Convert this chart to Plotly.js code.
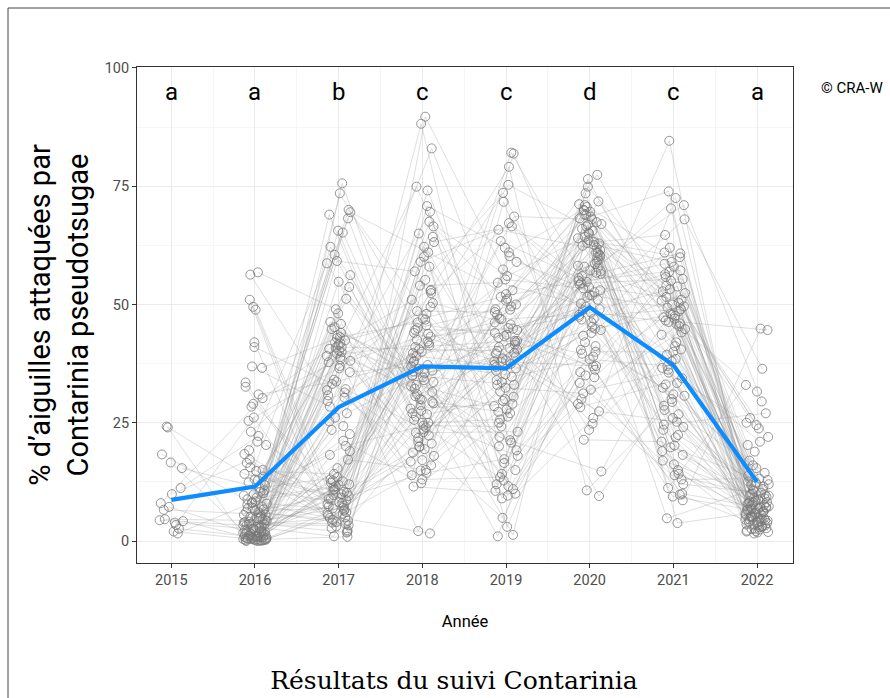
<!DOCTYPE html>
<html>
<head>
<meta charset="utf-8">
<script src="https://cdn.plot.ly/plotly-3.0.1.min.js"></script>
<style>html,body{margin:0;padding:0;background:#fff;}#chart{width:890px;height:698px;}</style>
</head>
<body>
<div id="chart"></div>
<script>
// ---- data ----
const years = [2015, 2016, 2017, 2018, 2019, 2020, 2021, 2022];
const tickLabels = ['2015', '2016', '2017', '2018', '2019', '2020', '2021', '2022'];
const letters = ['a', 'a', 'b', 'c', 'c', 'd', 'c', 'a'];
const means = [8.7, 11.5, 28.3, 36.9, 36.5, 49.4, 37.2, 12.5];

// one value per monitored plot, index i = same plot in every year
const v2015 = [4.4, 24.2, 2.0, 11.2, 6.6, 16.6, 1.6, 8.0, 24.0, 3.9, 15.4, 4.6, 9.9, 2.6, 18.3, 7.2, 3.4, 4.2];
const v2016 = [3.1, 14.2, 0.4, 22.2, 5.6, 1.1, 8.4, 30.2, 0.2, 2.5, 11.2, 4.3, 17.2, 0.8, 6.7, 1.9, 26.1, 0.1,
  9.6, 3.7, 56.8, 2.0, 0.5, 13.0, 7.3, 1.4, 36.9, 4.8, 0.3, 19.2, 2.9, 10.1, 0.6, 49.5, 5.0, 1.7,
  15.6, 0.0, 3.5, 8.8, 41.0, 2.2, 0.9, 28.4, 6.1, 1.3, 12.4, 0.2, 4.6, 33.5, 7.0, 2.7, 0.7, 51.0,
  9.2, 1.6, 16.5, 0.3, 5.3, 3.9, 23.1, 1.0, 11.8, 0.5, 6.4, 36.6, 2.4, 8.0, 0.1, 20.3, 4.1, 1.1,
  13.6, 0.0, 29.0, 5.8, 3.3, 56.3, 0.4, 10.7, 7.7, 42.0, 2.0, 18.4, 0.9, 31.0, 4.4, 25.4, 48.9, 15.0, 32.6,
  0.6, 2.8, 7.9, 1.2, 4.9, 0.2, 3.4, 9.9, 0.8, 5.5, 1.5, 12.8, 0.3, 6.9, 2.3, 0.1, 4.0, 8.2, 1.8, 0.5,
  3.6, 14.8, 0.9, 6.2, 2.6, 10.4, 0.4, 5.1, 21.0];
const v2017 = [40.2, 8.6, 69.0, 3.1, 24.3, 56.2, 11.3, 38.4, 0.9, 62.2, 13.5, 31.4, 5.9, 45.2, 9.9, 70.0, 2.7, 41.5,
  20.1, 7.3, 49.0, 12.6, 35.7, 4.5, 73.5, 10.2, 28.4, 39.6, 6.4, 58.7, 1.0, 44.0, 17.2, 9.0, 65.6, 42.4,
  5.4, 26.1, 75.6, 12.0, 33.2, 8.2, 51.2, 40.6, 4.0, 21.2, 69.5, 10.8, 38.9, 2.3, 46.3, 15.4, 30.3, 7.8,
  60.5, 41.0, 9.5, 23.5, 54.8, 3.6, 37.8, 11.6, 65.2, 19.0, 6.9, 43.1, 27.0, 4.9, 59.2, 10.4, 39.1, 34.1,
  9.2, 68.2, 12.3, 48.1, 5.0, 30.8, 42.0, 8.0, 53.7, 3.9, 36.5, 6.1, 25.3, 33.7, 7.0,
  38.1, 9.7, 41.8, 2.0, 13.0, 43.5, 6.6, 29.6, 10.9, 39.9, 3.3, 44.8, 11.9, 32.1, 8.9, 40.9, 5.7, 22.6,
  12.8, 37.0, 1.8, 18.2, 42.9, 7.5, 31.9, 14.2, 45.9, 4.3];
const v2018 = [31.0, 62.2, 16.0, 44.0, 88.2, 25.0, 38.6, 2.1, 55.2, 29.4, 41.0, 13.0, 67.5, 35.0, 20.0, 48.0, 33.6, 74.9,
  24.4, 43.2, 11.5, 59.0, 37.2, 28.0, 45.0, 19.4, 83.0, 32.2, 40.0, 22.3, 51.0, 36.4, 15.0, 64.3, 26.3, 47.0,
  1.6, 39.7, 30.0, 70.8, 18.0, 42.5, 34.0, 53.1, 25.6, 12.2, 61.0, 36.9, 21.0, 89.7, 31.5, 44.6, 17.1, 58.0,
  27.0, 40.5, 14.4, 66.5, 33.0, 23.0, 49.5, 37.9, 28.7, 74.1, 16.8, 46.2, 35.5, 20.6, 57.0, 29.9, 41.8, 13.9,
  65.0, 24.0, 50.3, 22.9, 34.6, 69.6, 18.7, 54.0, 26.8, 63.2, 48.6, 60.1, 52.4,
  38.1, 27.5, 43.8, 32.7, 21.8, 46.8, 36.0, 30.6, 25.0, 41.3, 34.9, 19.9, 45.6, 29.1, 39.1, 23.6, 52.9, 35.8,
  14.9, 42.2];
const v2019 = [44.0, 9.0, 61.0, 36.5, 20.0, 50.8, 1.3, 39.6, 73.6, 27.0, 42.3, 13.5, 56.0, 33.0, 47.8, 16.5, 82.1, 38.0,
  24.2, 45.0, 10.0, 65.8, 35.2, 29.0, 49.0, 4.9, 40.8, 59.0, 22.0, 43.6, 30.5, 12.0, 71.7, 37.4, 18.0, 51.6,
  26.3, 41.5, 1.0, 62.0, 34.7, 46.2, 14.2, 79.1, 39.0, 25.0, 52.2, 11.0, 36.0, 57.4, 21.3, 44.6, 31.6, 3.0,
  68.6, 40.2, 17.3, 49.6, 28.5, 37.9, 75.3, 15.0, 43.0, 32.4, 53.0, 10.6, 38.6, 60.2, 19.2, 47.0, 27.8, 81.9,
  34.0, 12.8, 45.8, 23.1, 63.4, 9.6, 42.3, 54.6, 30.0, 66.5, 48.4, 33.6, 67.2, 50.0,
  41.0, 38.2, 44.9, 36.8, 29.6, 48.9, 40.5, 25.7, 51.2, 39.8, 33.0, 43.3, 20.8, 37.2, 46.9, 11.6, 42.0, 27.3,
  55.3];
const v2020 = [62.0, 33.4, 70.6, 47.0, 56.5, 21.4, 68.6, 51.0, 40.4, 74.9, 58.6, 29.0, 64.3, 45.3, 9.5, 66.0, 53.6, 37.0,
  71.2, 49.5, 26.0, 61.5, 43.4, 57.2, 77.4, 35.7, 63.0, 52.6, 14.7, 69.0, 46.2, 59.4, 30.0, 65.2, 41.2, 55.0,
  73.5, 24.8, 60.5, 48.8, 38.4, 67.4, 54.2, 10.7, 62.6, 44.6, 70.0, 32.0, 57.8, 50.2, 76.5, 36.2, 64.0, 42.0,
  68.0, 27.4, 56.0, 23.5, 61.0, 47.4, 66.5, 39.0, 53.0, 31.2, 69.6, 60.0, 28.3, 51.6, 34.6, 67.0, 58.0, 44.0,
  71.8, 46.8, 63.6, 40.0, 55.6, 35.0, 65.6, 49.0, 62.4, 52.0, 59.0, 68.2, 54.8,
  63.2, 57.0, 69.9, 48.3, 60.9, 54.5, 66.8, 44.9, 58.2, 71.0, 51.9, 62.9, 39.6, 65.0, 56.7, 47.8, 68.9, 36.9,
  60.2, 53.4];
const v2021 = [47.0, 13.0, 61.0, 30.0, 50.4, 21.0, 73.9, 38.5, 8.6, 55.8, 26.0, 46.0, 17.0, 62.0, 33.4, 49.6, 4.8, 58.0,
  40.5, 24.6, 70.3, 15.0, 52.4, 36.2, 47.6, 10.0, 64.7, 29.4, 45.4, 19.0, 84.6, 42.0, 12.0, 54.0, 31.0, 57.2,
  23.5, 48.0, 3.8, 68.0, 37.0, 20.2, 51.0, 27.7, 59.0, 14.2, 43.6, 35.6, 72.5, 18.2, 46.6, 9.4, 60.0, 32.4,
  53.2, 25.2, 71.0, 39.4, 16.2, 49.0, 28.6, 55.0, 22.4, 44.8, 11.2, 41.2, 34.4, 56.4, 50.0,
  48.6, 36.6, 56.9, 45.9, 24.1, 51.6, 40.0, 60.8, 47.3, 19.8, 53.8, 30.7, 49.3, 13.9, 44.1, 58.6, 38.0, 26.8,
  50.8, 46.3, 21.9, 55.4, 33.1, 47.9, 9.8, 52.8];
const v2022 = [5.0, 13.2, 2.7, 8.4, 24.5, 6.2, 3.5, 10.6, 44.9, 4.3, 7.4, 1.8, 9.0, 20.3, 5.7, 3.0, 12.0, 6.8,
  4.0, 27.0, 8.0, 2.1, 11.0, 5.5, 16.0, 7.1, 3.8, 9.8, 31.6, 4.8, 6.5, 1.6, 10.2, 22.0, 5.2, 8.7,
  3.3, 12.6, 6.0, 36.4, 4.5, 7.7, 2.4, 9.4, 17.0, 5.9, 11.5, 25.0, 3.6, 8.9, 44.6, 6.6, 4.9, 14.4,
  7.9, 2.6, 29.5, 9.6, 5.3, 23.8, 7.2, 4.1, 12.3, 6.1, 33.0, 10.9, 21.0, 8.2, 26.0,
  3.9, 7.6, 2.2, 9.2, 5.6, 1.9, 11.8, 6.9, 4.4, 13.8, 8.5, 3.1, 5.8, 10.0, 2.9, 7.0, 4.6, 15.4,
  6.3, 2.0, 8.1, 4.2, 12.9, 5.1, 3.4, 9.9, 6.7, 18.9, 4.7, 7.3, 2.5];

const byYear = [v2015, v2016, v2017, v2018, v2019, v2020, v2021, v2022];

// ---- build traces ----
function jit(i, k) { return 0.14 * (((i * 53 + k * 31) % 41) / 20 - 1); }

const nPlots = Math.max(...byYear.map(a => a.length));
const lx = [], ly = [], px = [], py = [];
for (let i = 0; i < nPlots; i++) {
  for (let k = 0; k < years.length; k++) {
    const v = byYear[k][i];
    if (v === undefined) { lx.push(null); ly.push(null); }
    else {
      const x = years[k] + jit(i, k);
      lx.push(x); ly.push(v); px.push(x); py.push(v);
    }
  }
  lx.push(null); ly.push(null);
}

const FONT = 'Roboto, "Noto Sans", sans-serif';

const traces = [
  { type: 'scatter', mode: 'lines', x: lx, y: ly, connectgaps: false, hoverinfo: 'skip',
    line: { color: 'rgba(140,140,140,0.28)', width: 1 }, showlegend: false },
  { type: 'scatter', mode: 'markers', x: px, y: py, hoverinfo: 'skip',
    marker: { symbol: 'circle-open', size: 9, color: 'rgba(120,120,120,0.85)', line: { width: 0.9 } }, showlegend: false },
  { type: 'scatter', mode: 'lines', x: years, y: means, hoverinfo: 'skip',
    line: { color: '#0d8cff', width: 4.2 }, showlegend: false }
];

const annotations = years.map((yr, k) => ({
  x: yr, y: 95, xref: 'x', yref: 'y', text: letters[k], showarrow: false,
  xanchor: 'center', yanchor: 'middle', font: { family: FONT, size: 24, color: '#000' }
}));
annotations.push({
  x: (819 - 137) / 656, y: (563 - 88) / 496, xref: 'paper', yref: 'paper', text: '© CRA-W',
  showarrow: false, xanchor: 'left', yanchor: 'middle', font: { family: FONT, size: 15, color: '#000' }
});

const layout = {
  width: 890, height: 698,
  margin: { l: 137, r: 97, t: 67, b: 135, pad: 0 },
  paper_bgcolor: '#fff', plot_bgcolor: '#fff',
  font: { family: FONT },
  title: {
    text: 'Résultats du suivi Contarinia', xref: 'container', yref: 'container',
    x: 454 / 890, xanchor: 'center', y: 1 - 680 / 698, yanchor: 'middle',
    font: { family: '"DejaVu Serif", "Liberation Serif", serif', size: 25, color: '#000' }
  },
  xaxis: {
    range: [2014.59, 2022.43], tickmode: 'array', tickvals: years, ticktext: tickLabels,
    showgrid: true, gridcolor: '#ebebeb', gridwidth: 1, zeroline: false,
    minor: { tick0: 2014.5, dtick: 1, showgrid: true, gridcolor: '#f2f2f2', gridwidth: 0.7, ticks: '' },
    ticks: 'outside', ticklen: 4, tickcolor: '#333', tickwidth: 1,
    showline: true, mirror: true, linecolor: '#333', linewidth: 1,
    tickfont: { family: FONT, size: 14.5, color: '#4d4d4d' },
    title: { text: 'Année', standoff: 27, font: { family: FONT, size: 16.5, color: '#000' } }
  },
  yaxis: {
    range: [-4.65, 100.2], tickmode: 'array', tickvals: [0, 25, 50, 75, 100],
    showgrid: true, gridcolor: '#ebebeb', gridwidth: 1, zeroline: false,
    minor: { tick0: 12.5, dtick: 25, showgrid: true, gridcolor: '#f2f2f2', gridwidth: 0.7, ticks: '' },
    ticks: 'outside', ticklen: 4, tickcolor: '#333', tickwidth: 1,
    showline: true, mirror: true, linecolor: '#333', linewidth: 1,
    tickfont: { family: FONT, size: 14.5, color: '#4d4d4d' },
    title: { text: '% d’aiguilles attaquées par<br>Contarinia pseudotsugae', standoff: 7,
      font: { family: FONT, size: 29, color: '#000' } }
  },
  annotations: annotations,
  shapes: [{
    type: 'rect', xref: 'paper', yref: 'paper',
    x0: (8 - 137) / 656, x1: (905 - 137) / 656, y0: (563 - 710) / 496, y1: (563 - 8) / 496,
    line: { color: '#444', width: 1 }, fillcolor: 'rgba(0,0,0,0)', layer: 'below'
  }],
  showlegend: false
};

Plotly.newPlot('chart', traces, layout, { staticPlot: true, displayModeBar: false });
</script>
</body>
</html>
